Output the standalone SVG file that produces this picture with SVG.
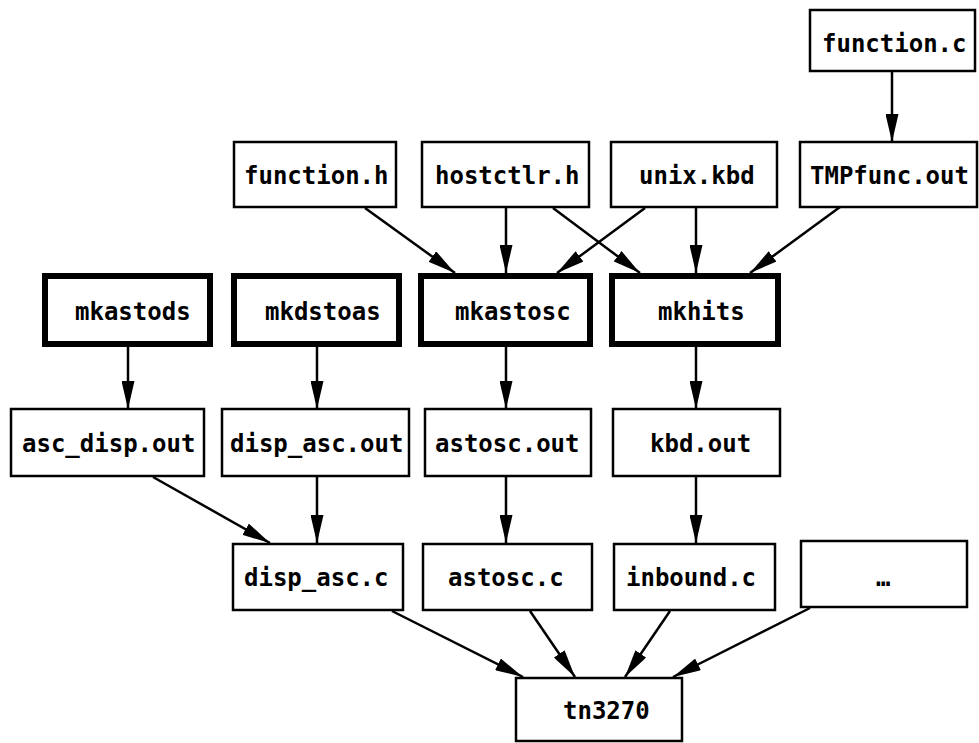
<svg xmlns="http://www.w3.org/2000/svg" width="979" height="743" viewBox="0 0 979 743">
<style>
.box{fill:#fff;stroke:#000;stroke-width:2.5}
.prog{fill:#fff;stroke:#000;stroke-width:6}
.lbl{font-family:"DejaVu Sans Mono","Liberation Mono",monospace;font-size:24px;font-weight:bold;fill:#000}
.edge{stroke:#000;stroke-width:2.5;fill:none;marker-end:url(#ah)}
</style>
<defs>
<marker id="ah" viewBox="0 0 28 13" markerWidth="28" markerHeight="13" refX="28" refY="6.5" orient="auto" markerUnits="userSpaceOnUse">
<path d="M0,0 L28,6.5 L0,13 z" fill="#000"/>
</marker>
</defs>
<rect width="979" height="743" fill="#fff"/>
<g id="connectors">
<line class="edge" x1="892" y1="72" x2="892" y2="142"/>
<line class="edge" x1="365" y1="208" x2="455" y2="273"/>
<line class="edge" x1="506" y1="208" x2="506" y2="273"/>
<line class="edge" x1="553" y1="208" x2="640" y2="273"/>
<line class="edge" x1="645" y1="208" x2="557" y2="273"/>
<line class="edge" x1="696" y1="208" x2="696" y2="273"/>
<line class="edge" x1="840" y1="207" x2="750" y2="273"/>
<line class="edge" x1="128" y1="347" x2="128" y2="409"/>
<line class="edge" x1="317" y1="347" x2="317" y2="409"/>
<line class="edge" x1="506" y1="347" x2="506" y2="409"/>
<line class="edge" x1="696" y1="347" x2="696" y2="409"/>
<line class="edge" x1="153" y1="477" x2="270" y2="543"/>
<line class="edge" x1="317" y1="477" x2="317" y2="543"/>
<line class="edge" x1="506" y1="477" x2="506" y2="543"/>
<line class="edge" x1="696" y1="477" x2="696" y2="543"/>
<line class="edge" x1="392" y1="611" x2="523" y2="677"/>
<line class="edge" x1="530" y1="611" x2="575" y2="677"/>
<line class="edge" x1="670" y1="611" x2="625" y2="677"/>
<line class="edge" x1="810" y1="608" x2="673" y2="677"/>
</g>
<g id="function_c"><rect class="box" x="810" y="10" width="165" height="61"/><text class="lbl" x="822" y="52">function.c</text></g>
<g id="function_h"><rect class="box" x="234" y="142" width="162" height="65"/><text class="lbl" x="244" y="184">function.h</text></g>
<g id="hostctlr_h"><rect class="box" x="422" y="142" width="167" height="65"/><text class="lbl" x="435" y="184">hostctlr.h</text></g>
<g id="unix_kbd"><rect class="box" x="611" y="142" width="166" height="65"/><text class="lbl" x="639" y="184">unix.kbd</text></g>
<g id="TMPfunc_out"><rect class="box" x="800" y="142" width="177" height="65"/><text class="lbl" x="810" y="184">TMPfunc.out</text></g>
<g id="mkastods"><rect class="prog" x="45" y="276" width="165" height="68"/><text class="lbl" x="75" y="320">mkastods</text></g>
<g id="mkdstoas"><rect class="prog" x="234" y="276" width="165" height="68"/><text class="lbl" x="265" y="320">mkdstoas</text></g>
<g id="mkastosc"><rect class="prog" x="421" y="276" width="169" height="68"/><text class="lbl" x="455" y="320">mkastosc</text></g>
<g id="mkhits"><rect class="prog" x="612" y="276" width="166" height="68"/><text class="lbl" x="658" y="320">mkhits</text></g>
<g id="asc_disp_out"><rect class="box" x="11" y="409" width="193" height="67"/><text class="lbl" x="22" y="452">asc_disp.out</text></g>
<g id="disp_asc_out"><rect class="box" x="222" y="409" width="187" height="67"/><text class="lbl" x="230" y="452">disp_asc.out</text></g>
<g id="astosc_out"><rect class="box" x="425" y="409" width="166" height="67"/><text class="lbl" x="435" y="452">astosc.out</text></g>
<g id="kbd_out"><rect class="box" x="613" y="409" width="167" height="67"/><text class="lbl" x="650" y="452">kbd.out</text></g>
<g id="disp_asc_c"><rect class="box" x="233" y="544" width="170" height="66"/><text class="lbl" x="244" y="586">disp_asc.c</text></g>
<g id="astosc_c"><rect class="box" x="423" y="544" width="169" height="66"/><text class="lbl" x="448" y="586">astosc.c</text></g>
<g id="inbound_c"><rect class="box" x="614" y="544" width="161" height="66"/><text class="lbl" x="626" y="586">inbound.c</text></g>
<g id="more"><rect class="box" x="801" y="541" width="166" height="66"/><text class="lbl" x="876" y="586">…</text></g>
<g id="tn3270"><rect class="box" x="516" y="678" width="166" height="63"/><text class="lbl" x="563" y="719">tn3270</text></g>
</svg>
